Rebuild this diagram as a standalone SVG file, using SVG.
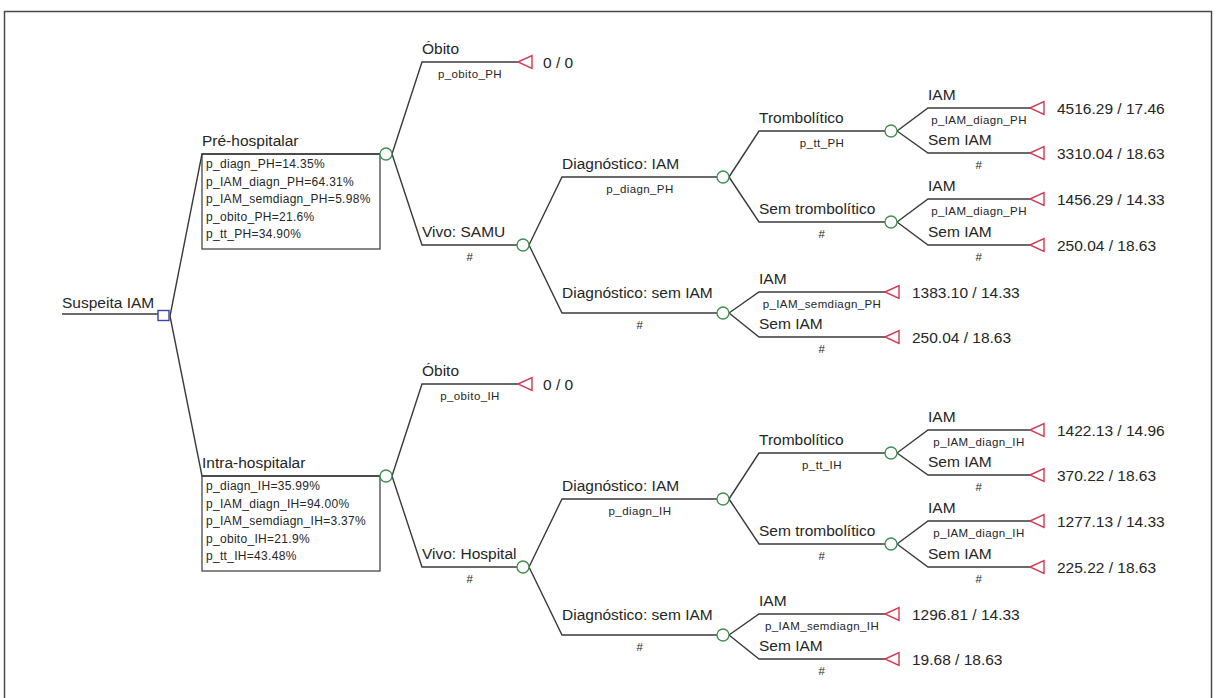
<svg xmlns="http://www.w3.org/2000/svg" width="1216" height="698" viewBox="0 0 1216 698">
<style>
.frame{fill:none;stroke:#4a4a4a;stroke-width:1.5}
.br{fill:none;stroke:#3a3a3a;stroke-width:1.4}
.box{fill:none;stroke:#3a3a3a;stroke-width:1.2}
.chance{fill:#fff;stroke:#3f8f4f;stroke-width:1.3}
.term{fill:#fff;stroke:#d23a52;stroke-width:1.4}
.dec{fill:#fff;stroke:#3b45a8;stroke-width:1.4}
text{font-family:"Liberation Sans",Arial,sans-serif;fill:#262626}
.lbl{font-size:15.5px}
.val{font-size:15.5px}
.sm{font-size:12px;letter-spacing:0.3px}
.pr{font-size:11.5px;letter-spacing:0.4px;text-anchor:middle}
</style>
<defs>
<polygon id="tri" points="0,0 14,-6.5 14,6.5"/>
</defs>
<rect class="frame" x="4.5" y="11.5" width="1207" height="700"/>

<g id="connectors">
  <!-- root -->
  <polyline class="br" points="62,314 158,314"/>
  <polyline class="br" points="170,316 202,154 380,154"/>
  <polyline class="br" points="170,316 202,476 380,476"/>
  <!-- PH -->
  <polyline class="br" points="392,154 422,62 518,62"/>
  <polyline class="br" points="392,154 422,245 517,245"/>
  <polyline class="br" points="529,245 562,177 717,177"/>
  <polyline class="br" points="529,245 562,313 717,313"/>
  <polyline class="br" points="729,177 759,131 885,131"/>
  <polyline class="br" points="729,177 759,222 885,222"/>
  <polyline class="br" points="897,131 928,108 1030,108"/>
  <polyline class="br" points="897,131 928,153 1030,153"/>
  <polyline class="br" points="897,222 928,199 1030,199"/>
  <polyline class="br" points="897,222 928,245 1030,245"/>
  <polyline class="br" points="729,313 759,292 885,292"/>
  <polyline class="br" points="729,313 759,337 885,337"/>
  <!-- IH -->
  <polyline class="br" points="392,476 422,384 518,384"/>
  <polyline class="br" points="392,476 422,567 517,567"/>
  <polyline class="br" points="529,567 562,499 717,499"/>
  <polyline class="br" points="529,567 562,635 717,635"/>
  <polyline class="br" points="729,499 759,453 885,453"/>
  <polyline class="br" points="729,499 759,544 885,544"/>
  <polyline class="br" points="897,453 928,430 1030,430"/>
  <polyline class="br" points="897,453 928,475 1030,475"/>
  <polyline class="br" points="897,544 928,521 1030,521"/>
  <polyline class="br" points="897,544 928,567 1030,567"/>
  <polyline class="br" points="729,635 759,614 885,614"/>
  <polyline class="br" points="729,635 759,659 885,659"/>

  <!-- branch labels -->
  <text class="lbl" x="202" y="146">Pré-hospitalar</text>
  <text class="lbl" x="202" y="468">Intra-hospitalar</text>

  <text class="lbl" x="422" y="54">Óbito</text>
  <text class="pr" x="470" y="78">p_obito_PH</text>
  <text class="lbl" x="422" y="237">Vivo: SAMU</text>
  <text class="pr" x="470" y="261">#</text>
  <text class="lbl" x="562" y="169">Diagnóstico: IAM</text>
  <text class="pr" x="640" y="193">p_diagn_PH</text>
  <text class="lbl" x="562" y="298">Diagnóstico: sem IAM</text>
  <text class="pr" x="640" y="329">#</text>
  <text class="lbl" x="759" y="123">Trombolítico</text>
  <text class="pr" x="822" y="147">p_tt_PH</text>
  <text class="lbl" x="759" y="214">Sem trombolítico</text>
  <text class="pr" x="822" y="238">#</text>
  <text class="lbl" x="928" y="100">IAM</text>
  <text class="pr" x="979" y="124">p_IAM_diagn_PH</text>
  <text class="lbl" x="928" y="145">Sem IAM</text>
  <text class="pr" x="979" y="169">#</text>
  <text class="lbl" x="928" y="191">IAM</text>
  <text class="pr" x="979" y="215">p_IAM_diagn_PH</text>
  <text class="lbl" x="928" y="237">Sem IAM</text>
  <text class="pr" x="979" y="261">#</text>
  <text class="lbl" x="759" y="284">IAM</text>
  <text class="pr" x="822" y="308">p_IAM_semdiagn_PH</text>
  <text class="lbl" x="759" y="329">Sem IAM</text>
  <text class="pr" x="822" y="353">#</text>

  <text class="lbl" x="422" y="376">Óbito</text>
  <text class="pr" x="470" y="400">p_obito_IH</text>
  <text class="lbl" x="422" y="559">Vivo: Hospital</text>
  <text class="pr" x="470" y="583">#</text>
  <text class="lbl" x="562" y="491">Diagnóstico: IAM</text>
  <text class="pr" x="640" y="515">p_diagn_IH</text>
  <text class="lbl" x="562" y="620">Diagnóstico: sem IAM</text>
  <text class="pr" x="640" y="651">#</text>
  <text class="lbl" x="759" y="445">Trombolítico</text>
  <text class="pr" x="822" y="469">p_tt_IH</text>
  <text class="lbl" x="759" y="536">Sem trombolítico</text>
  <text class="pr" x="822" y="560">#</text>
  <text class="lbl" x="928" y="422">IAM</text>
  <text class="pr" x="979" y="446">p_IAM_diagn_IH</text>
  <text class="lbl" x="928" y="467">Sem IAM</text>
  <text class="pr" x="979" y="491">#</text>
  <text class="lbl" x="928" y="513">IAM</text>
  <text class="pr" x="979" y="537">p_IAM_diagn_IH</text>
  <text class="lbl" x="928" y="559">Sem IAM</text>
  <text class="pr" x="979" y="583">#</text>
  <text class="lbl" x="759" y="606">IAM</text>
  <text class="pr" x="822" y="630">p_IAM_semdiagn_IH</text>
  <text class="lbl" x="759" y="651">Sem IAM</text>
  <text class="pr" x="822" y="675">#</text>
</g>

<g id="root">
  <text class="lbl" x="62" y="308">Suspeita IAM</text>
  <rect class="dec" x="158" y="310.5" width="11" height="10"/>
</g>

<g id="ph">
  <rect class="box" x="202" y="154" width="178" height="95"/>
  <text class="sm" x="206" y="168">p_diagn_PH=14.35%</text>
  <text class="sm" x="206" y="185.5">p_IAM_diagn_PH=64.31%</text>
  <text class="sm" x="206" y="203">p_IAM_semdiagn_PH=5.98%</text>
  <text class="sm" x="206" y="220.5">p_obito_PH=21.6%</text>
  <text class="sm" x="206" y="238">p_tt_PH=34.90%</text>
  <circle class="chance" cx="386" cy="154" r="6"/>
</g>
<g id="ih">
  <rect class="box" x="202" y="476" width="178" height="95"/>
  <text class="sm" x="206" y="490">p_diagn_IH=35.99%</text>
  <text class="sm" x="206" y="507.5">p_IAM_diagn_IH=94.00%</text>
  <text class="sm" x="206" y="525">p_IAM_semdiagn_IH=3.37%</text>
  <text class="sm" x="206" y="542.5">p_obito_IH=21.9%</text>
  <text class="sm" x="206" y="560">p_tt_IH=43.48%</text>
  <circle class="chance" cx="386" cy="476" r="6"/>
</g>

<g id="vivo-samu"><circle class="chance" cx="523" cy="245" r="6"/></g>
<g id="diag-iam-ph"><circle class="chance" cx="723" cy="177" r="6"/></g>
<g id="diag-sem-ph"><circle class="chance" cx="723" cy="313" r="6"/></g>
<g id="tromb-ph"><circle class="chance" cx="891" cy="131" r="6"/></g>
<g id="semtromb-ph"><circle class="chance" cx="891" cy="222" r="6"/></g>
<g id="vivo-hosp"><circle class="chance" cx="523" cy="567" r="6"/></g>
<g id="diag-iam-ih"><circle class="chance" cx="723" cy="499" r="6"/></g>
<g id="diag-sem-ih"><circle class="chance" cx="723" cy="635" r="6"/></g>
<g id="tromb-ih"><circle class="chance" cx="891" cy="453" r="6"/></g>
<g id="semtromb-ih"><circle class="chance" cx="891" cy="544" r="6"/></g>

<g id="t-obito-ph"><use href="#tri" class="term" x="518" y="62"/><text class="val" x="543" y="68">0 / 0</text></g>
<g id="t-ph-1"><use href="#tri" class="term" x="1030" y="108"/><text class="val" x="1057" y="114">4516.29 / 17.46</text></g>
<g id="t-ph-2"><use href="#tri" class="term" x="1030" y="153"/><text class="val" x="1057" y="159">3310.04 / 18.63</text></g>
<g id="t-ph-3"><use href="#tri" class="term" x="1030" y="199"/><text class="val" x="1057" y="205">1456.29 / 14.33</text></g>
<g id="t-ph-4"><use href="#tri" class="term" x="1030" y="245"/><text class="val" x="1057" y="251">250.04 / 18.63</text></g>
<g id="t-ph-5"><use href="#tri" class="term" x="885" y="292"/><text class="val" x="912" y="298">1383.10 / 14.33</text></g>
<g id="t-ph-6"><use href="#tri" class="term" x="885" y="337"/><text class="val" x="912" y="343">250.04 / 18.63</text></g>

<g id="t-obito-ih"><use href="#tri" class="term" x="518" y="384"/><text class="val" x="543" y="390">0 / 0</text></g>
<g id="t-ih-1"><use href="#tri" class="term" x="1030" y="430"/><text class="val" x="1057" y="436">1422.13 / 14.96</text></g>
<g id="t-ih-2"><use href="#tri" class="term" x="1030" y="475"/><text class="val" x="1057" y="481">370.22 / 18.63</text></g>
<g id="t-ih-3"><use href="#tri" class="term" x="1030" y="521"/><text class="val" x="1057" y="527">1277.13 / 14.33</text></g>
<g id="t-ih-4"><use href="#tri" class="term" x="1030" y="567"/><text class="val" x="1057" y="573">225.22 / 18.63</text></g>
<g id="t-ih-5"><use href="#tri" class="term" x="885" y="614"/><text class="val" x="912" y="620">1296.81 / 14.33</text></g>
<g id="t-ih-6"><use href="#tri" class="term" x="885" y="659"/><text class="val" x="912" y="665">19.68 / 18.63</text></g>
</svg>
